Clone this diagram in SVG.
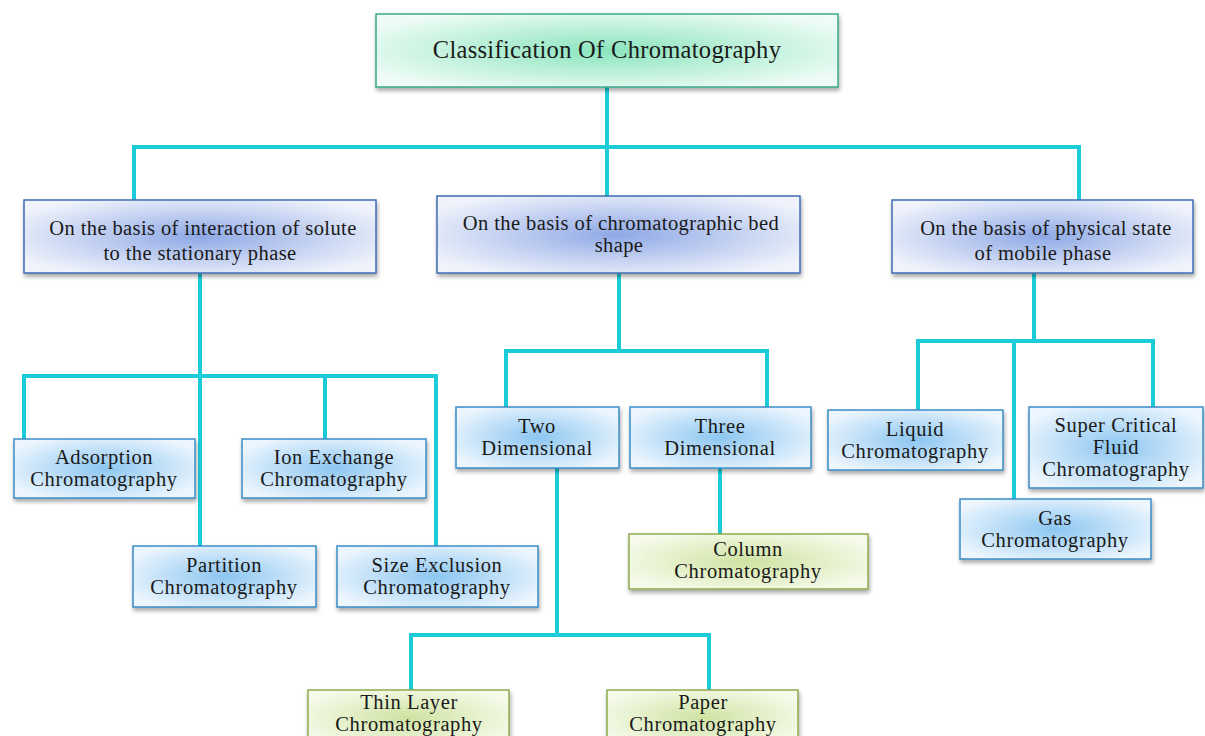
<svg xmlns="http://www.w3.org/2000/svg" width="1205" height="736" viewBox="0 0 1205 736">
<defs>
<radialGradient id="gMint" cx="50%" cy="50%" r="60%">
<stop offset="0" stop-color="#8ae4bd"/><stop offset="1" stop-color="#effcf6"/>
</radialGradient>
<radialGradient id="gBlue" cx="50%" cy="50%" r="60%">
<stop offset="0" stop-color="#8fa9e6"/><stop offset="1" stop-color="#f0f3fb"/>
</radialGradient>
<radialGradient id="gSky" cx="50%" cy="50%" r="60%">
<stop offset="0" stop-color="#8cc6f1"/><stop offset="1" stop-color="#edf6fe"/>
</radialGradient>
<radialGradient id="gGreen" cx="50%" cy="50%" r="60%">
<stop offset="0" stop-color="#cfe3a2"/><stop offset="1" stop-color="#f7fbec"/>
</radialGradient>
<filter id="sh" x="-10%" y="-20%" width="120%" height="150%">
<feDropShadow dx="1" dy="3" stdDeviation="2" flood-color="#000" flood-opacity="0.35"/>
</filter>
</defs>
<style>
text{font-family:"Liberation Serif","Times New Roman",serif;fill:#1a1a1a;text-anchor:middle;}
.t{font-size:24.5px;letter-spacing:0.3px;}
.c{font-size:20.5px;letter-spacing:0.4px;}
.l{font-size:20.5px;letter-spacing:0.6px;}
.mint{fill:url(#gMint);stroke:#3aaa88;stroke-width:1.5;filter:url(#sh);}
.cat{fill:url(#gBlue);stroke:#3f6db3;stroke-width:1.5;filter:url(#sh);}
.leaf{fill:url(#gSky);stroke:#3b8dc6;stroke-width:1.5;filter:url(#sh);}
.grn{fill:url(#gGreen);stroke:#8fab4c;stroke-width:1.5;filter:url(#sh);}
.con path{fill:none;stroke:#1ccbd8;stroke-width:4;}
</style>
<g class="con">
<path d="M607 87V147M134 200V147H1079V200M607 147V196"/>
<path d="M200 273V546M24 439V376H436V546M325 376V439"/>
<path d="M619 273V351M506 407V351H767V407"/>
<path d="M720 468V534"/>
<path d="M557 468V635M411 690V635H709V690"/>
<path d="M1034 273V341M918 410V341H1153V407M1014 341V499"/>
</g>
<g id="root"><rect class="mint" x="376" y="14" width="462" height="73"/><text class="t" x="607" y="58">Classification Of Chromatography</text></g>
<g id="cat1"><rect class="cat" x="24" y="200" width="352" height="73"/><text class="c" x="203" y="235">On the basis of interaction of solute</text><text class="c" x="200" y="260">to the stationary phase</text></g>
<g id="cat2"><rect class="cat" x="437" y="196" width="363" height="77"/><text class="c" x="621" y="230">On the basis of chromatographic bed</text><text class="c" x="619" y="252">shape</text></g>
<g id="cat3"><rect class="cat" x="892" y="200" width="301" height="73"/><text class="c" x="1046" y="235">On the basis of physical state</text><text class="c" x="1043" y="260">of mobile phase</text></g>
<g id="adsorption"><rect class="leaf" x="14" y="439" width="181" height="59"/><text class="l" x="104" y="464">Adsorption</text><text class="l" x="104" y="486">Chromatography</text></g>
<g id="ionexchange"><rect class="leaf" x="242" y="439" width="184" height="59"/><text class="l" x="334" y="464">Ion Exchange</text><text class="l" x="334" y="486">Chromatography</text></g>
<g id="partition"><rect class="leaf" x="133" y="546" width="183" height="61"/><text class="l" x="224" y="572">Partition</text><text class="l" x="224" y="594">Chromatography</text></g>
<g id="sizeexclusion"><rect class="leaf" x="337" y="546" width="201" height="61"/><text class="l" x="437" y="572">Size Exclusion</text><text class="l" x="437" y="594">Chromatography</text></g>
<g id="twodim"><rect class="leaf" x="456" y="407" width="163" height="61"/><text class="l" x="537" y="433">Two</text><text class="l" x="537" y="455">Dimensional</text></g>
<g id="threedim"><rect class="leaf" x="630" y="407" width="181" height="61"/><text class="l" x="720" y="433">Three</text><text class="l" x="720" y="455">Dimensional</text></g>
<g id="column"><rect class="grn" x="629" y="534" width="239" height="55"/><text class="l" x="748" y="556">Column</text><text class="l" x="748" y="578">Chromatography</text></g>
<g id="thinlayer"><rect class="grn" x="308" y="690" width="201" height="56"/><text class="l" x="409" y="709">Thin Layer</text><text class="l" x="409" y="731">Chromatography</text></g>
<g id="paper"><rect class="grn" x="607" y="690" width="191" height="56"/><text class="l" x="703" y="709">Paper</text><text class="l" x="703" y="731">Chromatography</text></g>
<g id="liquid"><rect class="leaf" x="828" y="410" width="175" height="60"/><text class="l" x="915" y="436">Liquid</text><text class="l" x="915" y="458">Chromatography</text></g>
<g id="supercritical"><rect class="leaf" x="1029" y="407" width="174" height="81"/><text class="l" x="1116" y="432">Super Critical</text><text class="l" x="1116" y="454">Fluid</text><text class="l" x="1116" y="476">Chromatography</text></g>
<g id="gas"><rect class="leaf" x="960" y="499" width="191" height="60"/><text class="l" x="1055" y="525">Gas</text><text class="l" x="1055" y="547">Chromatography</text></g>
</svg>
